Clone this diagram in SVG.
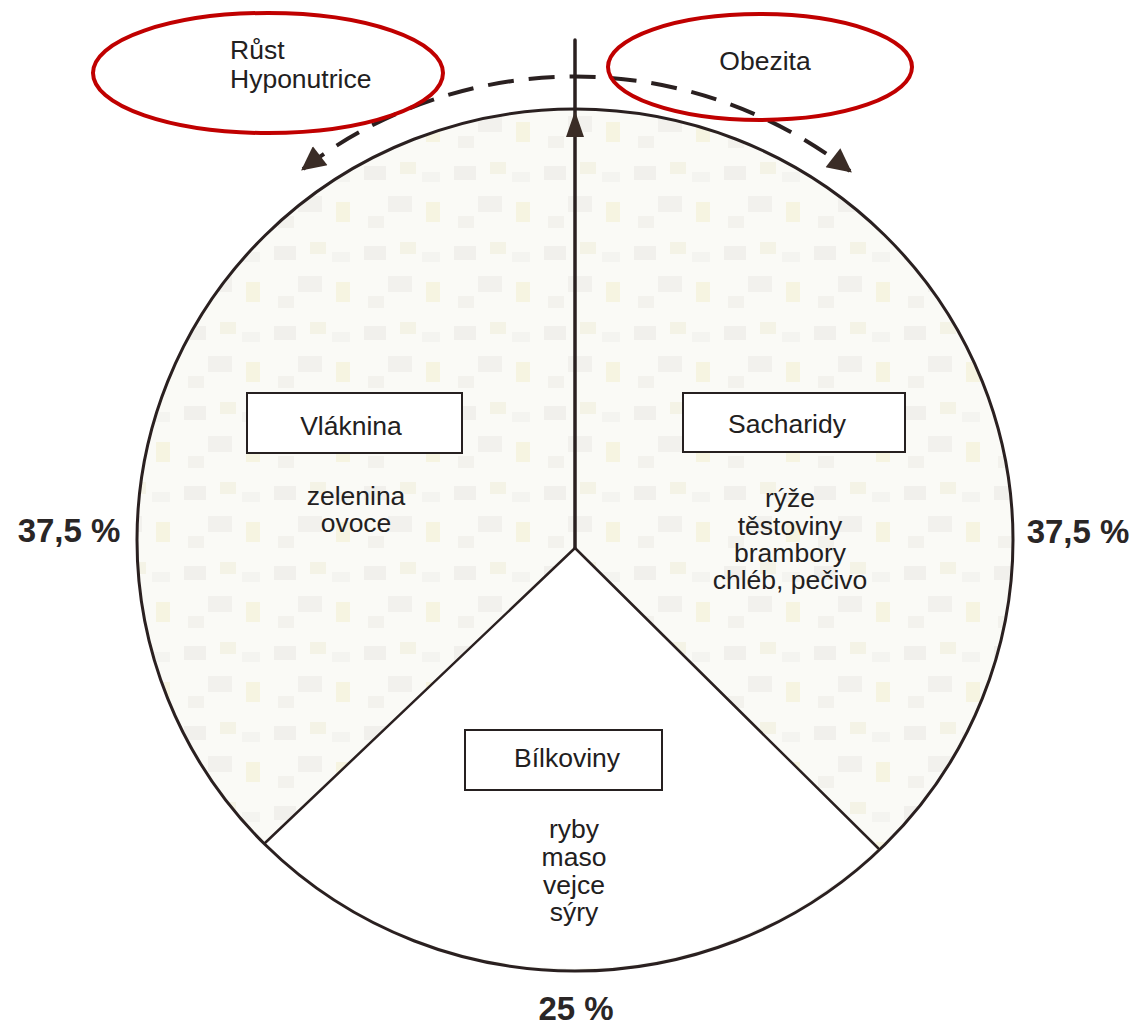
<svg xmlns="http://www.w3.org/2000/svg" width="1138" height="1025" viewBox="0 0 1138 1025">
<style>
.t{font-family:"Liberation Sans",Arial,sans-serif;font-size:26.5px;fill:#222020;text-anchor:middle}
.p{font-family:"Liberation Sans",Arial,sans-serif;font-size:33px;font-weight:bold;fill:#2a2626;text-anchor:middle}
.box{fill:#ffffff;stroke:#262020;stroke-width:2}
.red{fill:none;stroke:#c00000;stroke-width:4}
.ln{fill:none;stroke:#2a2020;stroke-linecap:round}
</style>
<defs>
<pattern id="tex" width="90" height="80" patternUnits="userSpaceOnUse">
<rect width="90" height="80" fill="#fafaf6"/>
<rect x="4" y="6" width="22" height="14" fill="#ebeae6" opacity="0.6"/>
<rect x="40" y="2" width="16" height="12" fill="#f2f1e2" opacity="0.8"/>
<rect x="28" y="36" width="24" height="16" fill="#e9e8e4" opacity="0.5"/>
<rect x="66" y="42" width="14" height="20" fill="#f5f3dc" opacity="0.8"/>
<rect x="8" y="56" width="16" height="12" fill="#eeede8" opacity="0.6"/>
<rect x="62" y="12" width="18" height="10" fill="#eeeeea" opacity="0.5"/>
</pattern>
<marker id="ah" viewBox="0 0 10 10" refX="9" refY="5" markerWidth="7" markerHeight="6" markerUnits="strokeWidth" orient="auto-start-reverse">
<path d="M0,0 L10,5 L0,10 z" fill="#3a2c26"/>
</marker>
</defs>
<rect width="1138" height="1025" fill="#ffffff"/>
<g id="pie">
<ellipse cx="575" cy="540" rx="438" ry="431" fill="url(#tex)"/>
<path d="M575,548 L265,843 A438,431 0 0 0 878,848 Z" fill="#ffffff"/>
<ellipse cx="575" cy="540" rx="438" ry="431" fill="none" stroke="#2a2020" stroke-width="3"/>
</g>
<g id="connectors">
<line class="ln" x1="575" y1="548" x2="265" y2="843" stroke-width="2.5"/>
<line class="ln" x1="575" y1="548" x2="878" y2="848" stroke-width="2.5"/>
<line class="ln" x1="575" y1="548" x2="575" y2="40" stroke-width="3.5"/>
<path d="M575,137 L584,137 L575,111 L566,137 Z" fill="#3a2c26"/>
<path d="M303,169 A447,447 0 0 1 850,171" fill="none" stroke="#2a2020" stroke-width="4" stroke-dasharray="26 15" marker-start="url(#ah)" marker-end="url(#ah)"/>
</g>
<g id="node-rust">
<ellipse class="red" cx="268" cy="73" rx="175" ry="60"/>
<text class="t" x="230" y="59" style="text-anchor:start">Růst</text>
<text class="t" x="230" y="88" style="text-anchor:start">Hyponutrice</text>
</g>
<g id="node-obezita">
<ellipse class="red" cx="760" cy="67" rx="152" ry="53"/>
<text class="t" x="765" y="70">Obezita</text>
</g>
<g id="node-vlaknina">
<rect class="box" x="247" y="393" width="215" height="60"/>
<text class="t" x="351" y="435">Vláknina</text>
<text class="t" x="356" y="505">zelenina</text>
<text class="t" x="356" y="532">ovoce</text>
</g>
<g id="node-sacharidy">
<rect class="box" x="683" y="393" width="222" height="59"/>
<text class="t" x="787" y="433">Sacharidy</text>
<text class="t" x="790" y="507">rýže</text>
<text class="t" x="790" y="535">těstoviny</text>
<text class="t" x="790" y="562">brambory</text>
<text class="t" x="790" y="589">chléb, pečivo</text>
</g>
<g id="node-bilkoviny">
<rect class="box" x="465" y="730" width="197" height="60"/>
<text class="t" x="567" y="767">Bílkoviny</text>
<text class="t" x="574" y="838">ryby</text>
<text class="t" x="574" y="866">maso</text>
<text class="t" x="574" y="894">vejce</text>
<text class="t" x="574" y="921">sýry</text>
</g>
<g id="labels">
<text class="p" x="69" y="542">37,5 %</text>
<text class="p" x="1078" y="543">37,5 %</text>
<text class="p" x="576" y="1020">25 %</text>
</g>
</svg>
